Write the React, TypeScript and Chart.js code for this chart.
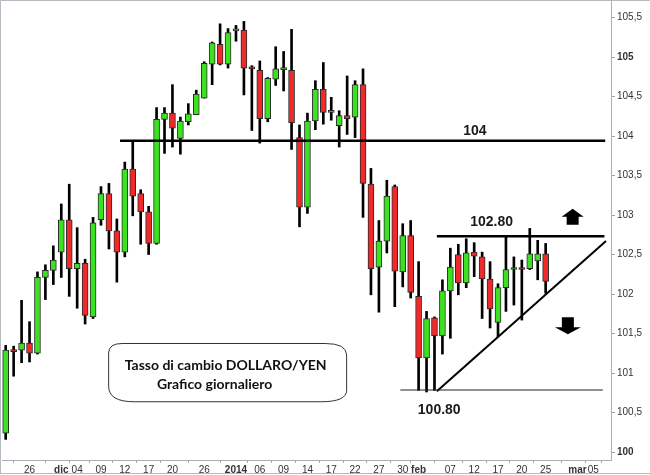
import React, { useEffect, useRef } from 'react';
import { Chart, registerables } from 'chart.js';

Chart.register(...registerables);

// Trading days (categories)
const days = [
  '21/11', '22/11', '25/11', '26/11', '27/11', '28/11', '29/11',
  '02/12', '03/12', '04/12', '05/12', '06/12',
  '09/12', '10/12', '11/12', '12/12', '13/12',
  '16/12', '17/12', '18/12', '19/12', '20/12',
  '23/12', '24/12', '25/12', '26/12', '27/12',
  '30/12', '31/12', '01/01', '02/01', '03/01',
  '06/01', '07/01', '08/01', '09/01', '10/01',
  '13/01', '14/01', '15/01', '16/01', '17/01',
  '20/01', '21/01', '22/01', '23/01', '24/01',
  '27/01', '28/01', '29/01', '30/01', '31/01',
  '03/02', '04/02', '05/02', '06/02', '07/02',
  '10/02', '11/02', '12/02', '13/02', '14/02',
  '17/02', '18/02', '19/02', '20/02', '21/02',
  '24/02', '25/02',
];

const opens = [
  100.24, 101.29, 101.29, 101.38, 101.25, 102.21, 102.30,
  102.53, 102.94, 102.32, 102.39, 101.71,
  102.94, 103.27, 102.80, 102.53, 103.58,
  103.27, 103.04, 102.64, 104.21, 104.29,
  103.97, 104.18, 104.27, 104.48, 104.91,
  105.16, 104.91, 105.33, 105.34, 104.86,
  104.83, 104.22, 104.72, 104.84, 104.83,
  103.98, 103.10, 104.19, 104.59, 104.30,
  104.13, 104.26, 104.24, 104.65, 103.39,
  102.34, 102.67, 103.36, 102.28, 102.74,
  101.97, 101.19, 101.70, 101.47, 102.04,
  102.50, 102.14, 102.53, 102.47, 102.19,
  101.64, 102.08, 102.31, 102.32, 102.32,
  102.42, 102.51,
];
const highs = [
  101.35, 101.34, 101.92, 101.65, 102.28, 102.37, 102.61,
  103.14, 103.39, 102.84, 102.44, 102.97,
  103.36, 103.40, 102.95, 103.67, 103.93,
  103.32, 103.11, 104.36, 104.36, 104.65,
  104.24, 104.41, 104.58, 104.94, 105.19,
  105.42, 105.36, 105.40, 105.45, 104.89,
  104.95, 104.74, 105.13, 105.07, 105.35,
  104.14, 104.29, 104.70, 104.93, 104.49,
  104.32, 104.76, 104.70, 104.85, 103.59,
  102.93, 103.44, 103.38, 102.89, 102.93,
  102.41, 101.78, 101.71, 102.18, 102.58,
  102.63, 102.70, 102.65, 102.53, 102.41,
  102.13, 102.72, 102.47, 102.43, 102.83,
  102.68, 102.64,
];
const lows = [
  100.16, 100.96, 101.13, 101.14, 101.24, 101.93, 102.12,
  102.21, 101.97, 101.82, 101.62, 101.69,
  102.87, 102.57, 102.15, 102.47, 102.99,
  102.63, 102.50, 102.63, 103.78, 103.86,
  103.77, 104.14, 104.27, 104.48, 104.65,
  104.90, 104.86, 105.20, 104.52, 104.07,
  103.91, 104.18, 104.64, 104.57, 103.83,
  102.85, 103.02, 104.08, 104.15, 104.20,
  103.86, 104.02, 103.98, 102.97, 101.99,
  101.77, 102.52, 101.84, 102.09, 101.95,
  100.78, 100.76, 100.78, 101.24, 101.44,
  101.99, 102.08, 102.22, 101.69, 101.57,
  101.46, 101.78, 101.86, 101.67, 102.31,
  102.18, 102.01,
];
const closes = [
  101.29, 101.27, 101.38, 101.25, 102.21, 102.30, 102.43,
  102.94, 102.32, 102.39, 101.73, 102.90,
  103.27, 102.80, 102.53, 103.58, 103.24,
  103.04, 102.64, 104.21, 104.29, 104.10,
  104.19, 104.28, 104.53, 104.92, 105.18,
  104.91, 105.31, 105.34, 104.86, 104.85,
  104.22, 104.73, 104.85, 104.85, 104.17,
  103.10, 104.19, 104.59, 104.30, 104.32,
  104.26, 104.22, 104.65, 103.40, 102.32,
  102.67, 103.24, 102.29, 102.74, 102.02,
  101.19, 101.69, 101.47, 102.04, 102.34,
  102.14, 102.52, 102.48, 102.19, 101.81,
  102.08, 102.31, 102.32, 102.31, 102.51,
  102.51, 102.16,
];

// X tick positions (trading-day index) and labels
const tickIndex = [3, 7, 9, 12, 15, 18, 21, 25, 29, 32, 35, 38, 41, 44, 47, 50, 52, 56, 59, 62, 65, 68, 72, 74];
const tickLabels = ['26', 'dic', '04', '09', '12', '17', '20', '26', '2014', '06', '09', '14', '17', '22', '27', '30', 'feb', '07', '12', '17', '20', '25', 'mar', '05'];
const boldTickLabels = ['dic', '2014', 'feb', 'mar'];

// Y ticks
const yTicks = [100, 100.5, 101, 101.5, 102, 102.5, 103, 103.5, 104, 104.5, 105, 105.5];
const boldYTicks = [100, 105];

// Drawn levels: [fromIndex, toIndex], value
const level104X = [14.4, 75.5];
const level104Y = [103.94, 103.94];
const level10280X = [54.3, 75.4];
const level10280Y = [102.73, 102.73];
const level10080X = [49.7, 75.2];
const level10080Y = [100.785, 100.785];
const trendX = [54.3, 75.6];
const trendY = [100.77, 102.67];

const levelTexts = ['104', '102.80', '100.80'];
const levelTextX = [59.1, 61.2, 54.6];
const levelTextY = [104.06, 102.91, 100.53];

const boxLines = ['Tasso di cambio DOLLARO/YEN', 'Grafico giornaliero'];

const GREEN = '#3be21f';
const RED = '#f02a2a';

const annotations = {
  id: 'annotations',
  beforeDraw(chart: any) {
    const c = chart.ctx;
    c.save();
    c.strokeStyle = '#b4bac0';
    c.lineWidth = 1;
    c.beginPath();
    c.moveTo(0.5, 473.5);
    c.lineTo(0.5, 0.5);
    c.lineTo(649.5, 0.5);
    c.moveTo(0, 473.5);
    c.lineTo(650, 473.5);
    c.stroke();
    c.restore();
  },
  afterDraw(chart: any) {
    const c = chart.ctx;
    const xs = chart.scales.x;
    const ys = chart.scales.y;
    c.save();
    // level labels
    c.fillStyle = '#1a1a1a';
    c.font = 'bold 14px "Liberation Sans", Arial, sans-serif';
    c.textAlign = 'center';
    c.textBaseline = 'middle';
    levelTexts.forEach((t, i) => {
      c.fillText(t, xs.getPixelForValue(levelTextX[i]), ys.getPixelForValue(levelTextY[i]));
    });

    // arrows
    const ux = xs.getPixelForValue(71.4);
    const uy = ys.getPixelForValue(103.08);
    c.fillStyle = '#000';
    c.beginPath();
    c.moveTo(ux, uy);
    c.lineTo(ux + 11, uy + 8);
    c.lineTo(ux + 6, uy + 8);
    c.lineTo(ux + 6, uy + 16);
    c.lineTo(ux - 6, uy + 16);
    c.lineTo(ux - 6, uy + 8);
    c.lineTo(ux - 11, uy + 8);
    c.closePath();
    c.fill();

    const dx = xs.getPixelForValue(70.8);
    const dy = ys.getPixelForValue(101.49);
    c.beginPath();
    c.moveTo(dx, dy);
    c.lineTo(dx + 13, dy - 7);
    c.lineTo(dx + 6, dy - 7);
    c.lineTo(dx + 6, dy - 17);
    c.lineTo(dx - 6, dy - 17);
    c.lineTo(dx - 6, dy - 7);
    c.lineTo(dx - 13, dy - 7);
    c.closePath();
    c.fill();

    // text box
    const bx1 = xs.getPixelForValue(12.9);
    const bx2 = xs.getPixelForValue(43.0);
    const by1 = ys.getPixelForValue(101.38);
    const by2 = ys.getPixelForValue(100.63);
    c.fillStyle = '#ffffff';
    c.strokeStyle = '#333';
    c.lineWidth = 1;
    c.beginPath();
    c.moveTo(bx1 + 14, by1 + 0.5);
    c.lineTo(bx2 - 22, by1 + 0.5);
    c.quadraticCurveTo(bx2 - 0.5, by1 + 0.5, bx2 - 0.5, by1 + 12);
    c.lineTo(bx2 - 0.5, by2 - 12);
    c.quadraticCurveTo(bx2 - 0.5, by2 - 0.5, bx2 - 26, by2 - 0.5);
    c.lineTo(bx1 + 26, by2 - 0.5);
    c.quadraticCurveTo(bx1 + 0.5, by2 - 0.5, bx1 + 0.5, by2 - 16);
    c.lineTo(bx1 + 0.5, by1 + 10);
    c.quadraticCurveTo(bx1 + 0.5, by1 + 0.5, bx1 + 14, by1 + 0.5);
    c.closePath();
    c.fill();
    c.stroke();

    c.fillStyle = '#111';
    c.font = 'bold 14px Lato, "Open Sans", sans-serif';
    c.textAlign = 'center';
    c.textBaseline = 'middle';
    const cx = (bx1 + bx2) / 2;
    c.fillText(boxLines[0], cx - 2, by1 + 22);
    c.fillText(boxLines[1], cx - 13, by1 + 41);
    c.restore();
  },
};

export default function App() {
  const ref = useRef<HTMLCanvasElement>(null);
  useEffect(() => {
    if (!ref.current) return;
    const colors = days.map((_, i) => (closes[i] >= opens[i] ? GREEN : RED));
    const lineDs = (xArr: number[], yArr: number[], width: number, color: string) => ({
      type: 'line' as const,
      data: xArr.map((x, i) => ({ x, y: yArr[i] })),
      borderColor: color,
      borderWidth: width,
      pointRadius: 0,
      fill: false,
      order: 0,
    });
    const chart = new Chart(ref.current, {
      type: 'bar',
      data: {
        datasets: [
          lineDs(level104X, level104Y, 2.5, '#000'),
          lineDs(level10280X, level10280Y, 2.5, '#000'),
          lineDs(level10080X, level10080Y, 1.2, '#222'),
          lineDs(trendX, trendY, 2, '#000'),
          {
            type: 'bar' as const,
            data: days.map((_, i) => ({ x: i, y: [opens[i], closes[i]] })) as any,
            backgroundColor: colors,
            borderColor: '#2a2a2a',
            borderWidth: 1,
            borderSkipped: false,
            barThickness: 6,
            minBarLength: 2,
            grouped: false,
            order: 1,
          },
          {
            type: 'bar' as const,
            data: days.map((_, i) => ({ x: i, y: [lows[i], highs[i]] })) as any,
            backgroundColor: '#000',
            borderWidth: 0,
            barThickness: 2,
            grouped: false,
            order: 2,
          },
        ] as any,
      },
      options: {
        animation: false,
        responsive: false,
        maintainAspectRatio: false,
        layout: { padding: { left: 2, top: 1, right: 0, bottom: 0 } },
        plugins: { legend: { display: false }, tooltip: { enabled: false } },
        scales: {
          x: {
            type: 'linear',
            min: -0.466,
            max: 76.23,
            offset: false,
            afterBuildTicks: (s: any) => {
              s.ticks = tickIndex.map((v) => ({ value: v }));
            },
            afterFit: (s: any) => {
              s.height = 15;
              s.paddingLeft = 0;
              s.paddingRight = 0;
              s.paddingTop = 0;
              s.paddingBottom = 0;
            },
            ticks: {
              autoSkip: false,
              maxRotation: 0,
              minRotation: 0,
              padding: 1,
              color: '#333',
              font: (ctx: any) => {
                const lbl = tickLabels[tickIndex.indexOf(ctx.tick?.value)];
                return {
                  family: '"Liberation Sans", Arial, sans-serif',
                  size: 10,
                  weight: boldTickLabels.includes(lbl) ? 'bold' : 'normal',
                };
              },
              callback: (v: any) => tickLabels[tickIndex.indexOf(v)] ?? '',
            },
            grid: { drawOnChartArea: false, tickLength: 3, color: '#a0a6ac' },
            border: { color: '#a8aeb4' },
          },
          y: {
            type: 'linear',
            position: 'right',
            min: 99.899,
            max: 105.709,
            afterBuildTicks: (s: any) => {
              s.ticks = yTicks.map((v) => ({ value: v }));
            },
            afterFit: (s: any) => {
              s.width = 39;
              s.paddingLeft = 0;
              s.paddingRight = 0;
              s.paddingTop = 0;
              s.paddingBottom = 0;
            },
            ticks: {
              padding: 2,
              color: '#333',
              font: (ctx: any) => ({
                family: '"Liberation Sans", Arial, sans-serif',
                size: 10,
                weight: boldYTicks.includes(ctx.tick?.value) ? 'bold' : 'normal',
              }),
              callback: (v: any) => String(v).replace('.', ','),
            },
            grid: { drawOnChartArea: false, tickLength: 4, color: '#a0a6ac' },
            border: { color: '#a8aeb4' },
          },
        },
      } as any,
      plugins: [annotations],
    });
    return () => chart.destroy();
  }, []);
  return (
    <div style={{ position: 'fixed', left: 0, top: 0, width: 650, height: 475, background: '#fff' }}>
      <canvas ref={ref} width={650} height={475} style={{ display: 'block' }} />
    </div>
  );
}
